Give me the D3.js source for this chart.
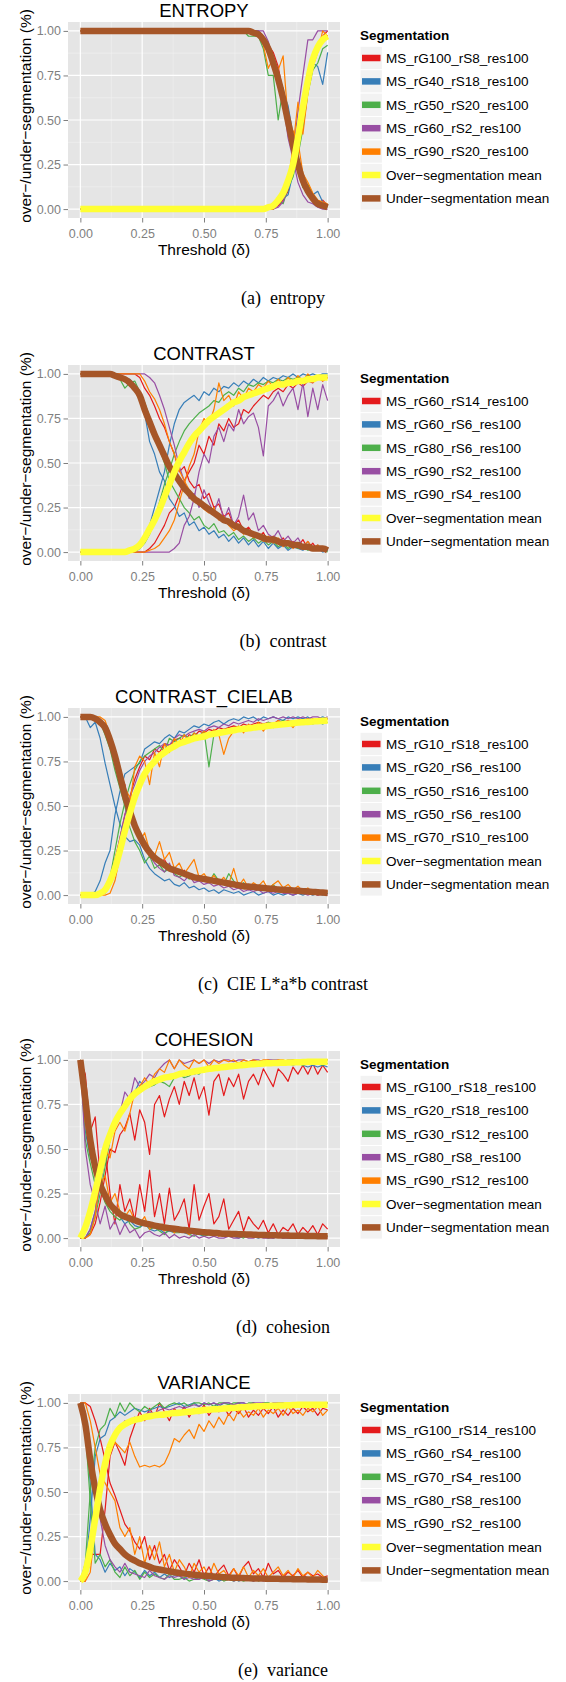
<!DOCTYPE html>
<html>
<head>
<meta charset="utf-8">
<script src="https://cdn.jsdelivr.net/npm/d3@7"></script>
<style>
  body { margin: 0; background: #fff; }
</style>
</head>
<body>
<div id="chart"></div>
<script>
// thresholds (delta) shared by every panel
const thresholds = [0,0.02,0.04,0.06,0.08,0.1,0.12,0.14,0.16,0.18,0.2,0.22,0.24,0.26,0.28,0.3,0.32,0.34,0.36,0.38,
  0.4,0.42,0.44,0.46,0.48,0.5,0.52,0.54,0.56,0.58,0.6,0.62,0.64,0.66,0.68,0.7,0.72,0.74,0.76,0.78,
  0.8,0.82,0.84,0.86,0.88,0.9,0.92,0.94,0.96,0.98,1];
const axisTicks = [0, 0.25, 0.5, 0.75, 1];
const seriesColors = ['#E41A1C', '#377EB8', '#4DAF4A', '#984EA3', '#FF7F00'];
const overMeanColor = '#FFFF33';
const underMeanColor = '#A65628';

// values are in percent, one row per segmentation

// (a) ENTROPY
const entropyNames = ['MS_rG100_rS8_res100', 'MS_rG40_rS18_res100', 'MS_rG50_rS20_res100', 'MS_rG60_rS2_res100', 'MS_rG90_rS20_res100'];
const entropyUnder = [
  [100,100,100,100,100,100,100,100,100,100,100,100,100,100,100,100,100,100,100,100,100,100,100,100,100,100,100,100,100,100,100,100,100,100,100,100,100,97,92,88,80,65,55,40,25,15,10,8,3,5,2],
  [100,100,100,100,100,100,100,100,100,100,100,100,100,100,100,100,100,100,100,100,100,100,100,100,100,100,100,100,100,100,100,100,100,100,100,100,100,96,90,84,75,66,58,42,30,18,12,8,10,4,2],
  [100,100,100,100,100,100,100,100,100,100,100,100,100,100,100,100,100,100,100,100,100,100,100,100,100,100,100,100,100,100,100,100,100,100,97,97,97,90,75,75,50,68,52,35,22,12,14,8,5,3,1],
  [100,100,100,100,100,100,100,100,100,100,100,100,100,100,100,100,100,100,100,100,100,100,100,100,100,100,100,100,100,100,100,100,100,100,100,100,100,100,94,84,72,60,40,28,15,8,4,3,1,0,0],
  [100,100,100,100,100,100,100,100,100,100,100,100,100,100,100,100,100,100,100,100,100,100,100,100,100,100,100,100,100,100,100,100,100,100,100,100,98,92,79,85,78,86,50,44,38,20,15,9,5,4,3]
];
const entropyOver = [
  [0,0,0,0,0,0,0,0,0,0,0,0,0,0,0,0,0,0,0,0,0,0,0,0,0,0,0,0,0,0,0,0,0,0,0,0,0,0,0,0,2,5,10,22,35,55,72,85,92,97,100],
  [0,0,0,0,0,0,0,0,0,0,0,0,0,0,0,0,0,0,0,0,0,0,0,0,0,0,0,0,0,0,0,0,0,0,0,0,0,0,0,0,3,6,8,20,38,52,75,82,80,70,88],
  [0,0,0,0,0,0,0,0,0,0,0,0,0,0,0,0,0,0,0,0,0,0,0,0,0,0,0,0,0,0,0,0,0,0,0,0,0,0,0,0,5,3,12,18,30,45,65,78,82,90,92],
  [0,0,0,0,0,0,0,0,0,0,0,0,0,0,0,0,0,0,0,0,0,0,0,0,0,0,0,0,0,0,0,0,0,0,0,0,0,0,0,0,1,4,12,30,55,75,95,95,100,100,100],
  [0,0,0,0,0,0,0,0,0,0,0,0,0,0,0,0,0,0,0,0,0,0,0,0,0,0,0,0,0,0,0,0,0,0,0,0,0,0,0,0,4,8,15,35,60,42,65,80,88,100,97]
];
const entropyUnderMean = [100,100,100,100,100,100,100,100,100,100,100,100,100,100,100,100,100,100,100,100,100,100,100,100,100,100,100,100,100,100,100,100,100,100,100,99,98,95,90,82,73,62,49,36,25,16,10,6,3,2,1];
const entropyOverMean = [0,0,0,0,0,0,0,0,0,0,0,0,0,0,0,0,0,0,0,0,0,0,0,0,0,0,0,0,0,0,0,0,0,0,0,0,0,0,1,2,5,9,16,25,40,57,72,84,91,95,97];

// (b) CONTRAST
const contrastNames = ['MS_rG60_rS14_res100', 'MS_rG60_rS6_res100', 'MS_rG80_rS6_res100', 'MS_rG90_rS2_res100', 'MS_rG90_rS4_res100'];
const contrastUnder = [
  [100,100,100,100,100,100,100,100,100,100,100,100,98,92,88,82,75,70,62,55,45,48,40,36,38,30,33,25,27,20,22,15,18,12,14,10,8,11,6,9,5,8,4,6,3,7,2,5,1,3,1],
  [100,100,100,100,100,100,100,100,100,98,97,94,88,78,62,55,45,40,30,26,20,22,15,17,12,14,10,12,8,10,6,9,5,8,4,7,3,6,2,5,2,4,1,3,2,1,3,1,2,0,1],
  [100,100,100,100,100,100,100,100,97,92,95,96,90,84,76,68,58,50,40,35,30,25,22,18,20,15,13,16,11,12,9,11,7,9,6,8,5,7,4,6,3,5,2,4,2,3,1,2,1,2,0],
  [100,100,100,100,100,100,100,100,100,100,100,100,100,100,98,95,88,80,70,60,48,40,30,33,25,35,28,22,30,18,25,15,20,32,18,22,12,15,10,8,12,6,9,5,8,3,6,2,4,1,2],
  [100,100,100,100,100,100,100,100,100,100,100,100,100,96,90,86,80,72,62,55,46,40,35,30,28,24,22,25,18,20,15,12,14,10,12,8,10,6,9,5,8,3,6,2,5,3,6,2,4,1,2]
];
const contrastOver = [
  [0,0,0,0,0,0,0,0,0,0,0,0,0,0,2,5,10,15,22,25,32,40,45,50,60,55,65,60,72,68,75,70,72,80,78,82,85,88,86,90,92,90,94,92,95,93,96,95,98,96,98],
  [0,0,0,0,0,0,0,0,0,0,0,2,4,8,15,25,35,45,60,72,80,84,86,88,85,90,88,92,90,93,92,95,93,96,94,97,95,98,96,98,97,99,98,100,98,100,99,100,99,100,100],
  [0,0,0,0,0,0,0,0,0,0,0,0,2,5,10,18,28,38,46,55,62,68,72,75,78,80,82,85,84,88,90,88,92,90,94,93,95,94,96,95,97,96,98,97,98,97,99,98,99,98,99],
  [0,0,0,0,0,0,0,0,0,0,0,0,0,0,0,0,0,0,0,2,5,15,20,30,45,55,50,65,70,62,72,68,80,72,76,78,70,54,82,85,90,82,88,92,80,95,76,92,80,94,85],
  [0,0,0,0,0,0,0,0,0,0,0,0,0,0,1,2,4,8,12,18,28,38,48,55,68,75,72,80,95,85,88,82,90,86,92,90,94,92,96,93,97,94,98,95,99,96,100,97,99,96,98]
];
const contrastUnderMean = [100,100,100,100,100,100,100,99,98,97,95,92,88,80,73,66,60,54,48,44,40,36,33,30,28,26,24,22,20,18,17,15,14,12,11,10,9,8,7,7,6,5,5,4,4,3,3,2,2,2,1];
const contrastOverMean = [0,0,0,0,0,0,0,0,0,0,1,2,4,8,13,18,24,31,38,45,51,56,61,65,68,71,74,76,78,80,82,84,85,87,88,89,90,91,92,93,94,94,95,95,96,96,97,97,98,98,98];

// (c) CONTRAST_CIELAB
const cielabNames = ['MS_rG10_rS18_res100', 'MS_rG20_rS6_res100', 'MS_rG50_rS16_res100', 'MS_rG50_rS6_res100', 'MS_rG70_rS10_res100'];
const cielabUnder = [
  [100,100,100,100,98,94,86,76,68,62,45,38,32,28,24,20,18,20,15,14,12,14,10,11,8,9,7,8,6,7,5,6,4,5,3,5,3,4,2,3,2,3,1,2,1,2,1,1,0,1,1],
  [100,100,94,97,88,74,62,50,40,33,30,31,28,20,15,12,10,8,9,6,5,7,4,5,3,4,2,3,1,3,2,1,2,0,1,2,0,1,2,0,1,0,1,0,1,0,1,0,1,0,1],
  [100,100,100,100,97,90,82,70,60,50,38,30,25,18,22,15,17,13,15,12,10,12,9,11,8,10,7,12,8,6,12,8,5,7,4,6,3,5,3,6,2,4,2,3,1,3,1,2,1,2,1],
  [100,100,100,100,98,93,85,75,65,55,45,38,30,26,22,18,15,13,18,11,10,8,11,7,8,6,7,5,6,4,5,3,4,2,3,2,3,1,2,1,2,1,1,0,1,1,0,1,0,1,0],
  [100,100,100,100,100,98,90,80,72,60,55,40,30,35,25,22,30,20,24,15,18,12,16,20,10,12,8,11,7,10,6,15,5,9,4,7,5,8,3,6,8,4,6,3,5,2,4,1,3,1,2]
];
const cielabOver = [
  [0,0,0,0,0,2,8,20,32,45,55,65,72,78,76,82,80,85,84,87,88,86,90,89,92,91,93,92,94,93,94,95,94,96,95,96,97,96,97,96,98,97,98,97,98,99,98,99,98,99,99],
  [0,0,0,2,8,18,25,45,58,68,70,72,74,82,84,86,85,88,90,88,92,91,93,95,94,96,95,97,98,96,98,99,98,100,99,100,98,100,99,100,99,98,100,99,100,99,100,98,99,100,99],
  [0,0,0,0,0,2,10,25,40,52,62,70,75,78,80,82,84,80,88,86,88,90,88,91,89,92,72,90,92,91,93,92,94,93,95,94,96,95,97,96,97,98,97,98,96,98,97,96,97,96,97],
  [0,0,0,0,0,1,6,18,32,45,55,62,70,75,78,80,83,85,84,88,90,89,91,92,93,92,94,95,94,96,95,97,96,97,98,97,99,98,99,100,99,100,99,100,99,100,99,100,100,99,100],
  [0,0,0,0,0,0,1,8,22,35,50,72,78,75,62,80,72,85,80,88,84,90,86,91,88,92,89,93,90,79,88,92,95,91,96,93,97,92,96,94,98,95,97,94,98,96,99,97,98,97,99]
];
const cielabUnderMean = [100,100,100,99,97,94,87,78,67,56,47,39,33,28,24,21,19,17,15,14,13,12,11,10,9.5,9,8.5,8,7.5,7,6.5,6,5.5,5,4.8,4.5,4.2,4,3.7,3.5,3.2,3,2.8,2.6,2.4,2.2,2,1.8,1.6,1.4,1.2];
const cielabOverMean = [0,0,0,0,1,3,8,15,25,36,46,55,62,68,72,75,78,80,82,83.5,85,86,87,88,88.5,89,90,90.5,91,91.5,92,92.5,93,93.3,93.6,94,94.3,94.6,95,95.3,95.6,95.9,96.2,96.5,96.8,97,97.2,97.4,97.6,97.8,98];

// (d) COHESION
const cohesionNames = ['MS_rG100_rS18_res100', 'MS_rG20_rS18_res100', 'MS_rG30_rS12_res100', 'MS_rG80_rS8_res100', 'MS_rG90_rS12_res100'];
const cohesionUnder = [
  [100,92,60,68,35,50,25,8,30,15,22,10,30,15,38,12,25,8,28,10,15,22,5,30,10,18,25,8,12,22,5,10,15,4,12,8,5,10,3,8,2,6,4,8,2,6,3,7,2,8,5],
  [100,60,45,40,30,25,20,15,12,8,10,7,6,8,5,4,5,3,4,3,5,3,2,3,2,1,2,1,3,1,2,1,0,1,2,1,0,1,1,0,1,0,1,0,1,0,1,0,1,0,1],
  [100,55,42,30,28,20,15,12,10,14,8,5,6,10,5,6,4,2,5,3,3,4,2,1,3,1,2,1,2,1,1,2,1,0,2,1,2,1,0,1,2,1,0,1,2,0,1,0,1,2,1],
  [100,50,30,20,8,18,5,10,2,8,3,5,0,3,4,2,1,3,0,2,0,1,0,2,0,1,0,1,0,0,1,0,0,1,0,0,1,0,0,0,1,0,0,0,1,0,0,0,0,1,0],
  [100,65,48,42,30,35,20,25,15,12,16,10,8,12,5,8,6,4,6,3,6,4,2,5,3,3,2,4,1,3,2,1,3,2,1,2,3,1,2,1,2,1,3,1,2,1,2,1,1,2,1]
];
const cohesionOver = [
  [0,0,2,8,20,35,50,48,58,62,70,55,72,65,47,75,80,68,78,85,75,88,80,90,78,85,69,88,92,80,90,85,92,78,88,92,86,95,90,85,95,92,88,96,92,97,92,98,92,97,93],
  [0,0,5,15,30,45,55,62,70,75,80,82,88,85,86,88,89,90,91,90,92,91,93,92,93,95,94,95,96,95,96,97,96,97,98,97,98,97,98,98,98,97,98,97,98,97,96,97,96,97,96],
  [0,0,3,12,25,40,55,62,68,75,78,80,82,84,85,86,88,87,85,90,92,90,91,93,92,95,94,95,96,95,97,96,97,98,97,98,97,98,99,98,98,99,98,99,98,97,98,99,98,97,98],
  [0,0,5,15,30,45,55,65,70,82,78,90,85,88,92,90,95,98,100,95,100,98,99,100,98,100,98,100,99,100,100,99,100,100,99,100,100,99,100,100,100,99,100,100,99,100,100,100,99,100,100],
  [0,0,2,12,35,50,45,60,65,60,70,82,85,90,86,92,95,93,100,95,100,97,95,100,98,100,96,100,98,100,99,100,98,100,99,100,99,100,100,99,100,100,99,100,100,98,100,99,100,100,100]
];
const cohesionUnderMean = [100,78,55,40,30,24,19,16,13.5,12,11,10,9,8.3,7.7,7,6.5,6,5.6,5.2,4.8,4.5,4.2,3.9,3.6,3.3,3.1,2.9,2.7,2.5,2.4,2.3,2.2,2.1,2,1.9,1.8,1.7,1.65,1.6,1.5,1.45,1.4,1.35,1.3,1.25,1.2,1.15,1.1,1.05,1];
const cohesionOverMean = [0,6,15,26,38,50,58,65,70,74,78,81,83,85,86.5,88,89,90,90.5,91,92,92.5,93,93.5,94,94.5,95,95.3,95.6,96,96.3,96.6,96.9,97.2,97.4,97.6,97.8,98,98.1,98.2,98.3,98.4,98.5,98.6,98.7,98.8,98.9,99,99,99,99];

// (e) VARIANCE
const varianceNames = ['MS_rG100_rS14_res100', 'MS_rG60_rS4_res100', 'MS_rG70_rS4_res100', 'MS_rG80_rS8_res100', 'MS_rG90_rS2_res100'];
const varianceUnder = [
  [100,100,98,90,80,68,55,48,40,32,28,22,18,25,12,20,10,15,6,12,8,3,10,5,12,3,8,2,6,9,3,7,2,8,11,4,7,2,10,4,6,2,5,3,6,2,5,3,4,2,3],
  [100,90,55,15,12,5,10,6,8,3,7,5,2,6,3,5,2,4,2,3,3,1,4,2,1,3,1,2,0,1,1,2,0,1,1,0,2,1,0,1,1,0,1,0,1,1,0,1,0,1,0],
  [100,85,45,10,15,8,12,5,2,8,3,6,1,5,2,4,2,1,4,1,1,2,0,1,2,1,0,1,2,0,1,0,1,0,1,2,0,1,0,1,0,1,0,1,0,1,0,1,0,0,1],
  [100,95,75,55,35,20,12,8,5,10,5,4,3,2,6,3,2,1,3,2,3,1,2,1,1,2,0,1,2,1,2,0,1,1,2,0,1,0,1,0,1,0,1,0,1,0,1,0,0,1,0],
  [100,100,90,75,60,55,50,45,30,25,30,15,25,10,20,12,22,8,15,5,12,8,2,10,5,8,2,10,4,6,2,7,3,8,2,6,3,7,2,5,8,3,6,2,7,3,5,2,6,3,1]
];
const varianceOver = [
  [0,0,15,15,15,40,70,78,72,65,80,88,95,90,97,92,100,95,90,97,93,98,92,97,94,99,93,97,95,98,93,97,94,98,92,96,93,97,94,98,92,96,93,97,94,98,95,97,93,97,96],
  [0,5,35,70,80,82,90,92,95,93,95,97,96,95,96,97,98,97,98,99,100,98,99,100,98,100,99,100,98,100,100,99,100,100,99,100,98,100,100,99,100,99,100,100,99,100,99,100,100,99,100],
  [0,10,50,75,85,88,97,92,100,95,100,97,95,98,96,98,100,97,99,100,99,100,98,100,100,99,100,98,100,100,99,100,100,98,100,100,99,100,100,99,100,100,99,100,100,98,100,99,100,100,100],
  [0,2,10,30,50,65,75,80,85,90,88,92,90,93,95,94,96,97,96,97,98,97,98,99,98,100,99,100,99,100,100,99,100,100,99,100,100,100,99,100,100,100,99,100,100,100,99,100,100,100,100],
  [0,0,5,30,55,68,72,78,75,72,78,70,64,65,64,65,64,66,72,80,78,82,85,80,88,84,90,86,92,88,94,90,96,92,95,93,97,92,96,94,97,93,98,94,96,93,97,95,98,93,96]
];
const varianceUnderMean = [100,88,68,52,40,32,26,21,18,15,13,11.5,10,9,8,7,6.5,6,5.5,5,4.5,4.2,3.9,3.6,3.3,3,2.8,2.6,2.4,2.2,2,1.9,1.8,1.7,1.6,1.5,1.45,1.4,1.35,1.3,1.25,1.2,1.15,1.1,1.05,1,0.95,0.9,0.85,0.8,0.8];
const varianceOverMean = [0,5,18,35,52,66,76,82,86,88,89.5,90.5,91,92,92.5,93,93.3,93.5,94,94.3,94.5,94.8,95,95.3,95.6,96,96.2,96.4,96.6,96.8,97,97.2,97.4,97.6,97.8,98,98.1,98.2,98.3,98.4,98.5,98.6,98.7,98.8,98.9,99,99,99,99,99,99];

const panelTitles = ['ENTROPY', 'CONTRAST', 'CONTRAST_CIELAB', 'COHESION', 'VARIANCE'];
const panelCaptions = ['(a)  entropy', '(b)  contrast', '(c)  CIE L*a*b contrast', '(d)  cohesion', '(e)  variance'];
const meanLabels = ['Over\u2212segmentation mean', 'Under\u2212segmentation mean'];

const panels = [
  { names: entropyNames, under: entropyUnder, over: entropyOver, underMean: entropyUnderMean, overMean: entropyOverMean },
  { names: contrastNames, under: contrastUnder, over: contrastOver, underMean: contrastUnderMean, overMean: contrastOverMean },
  { names: cielabNames, under: cielabUnder, over: cielabOver, underMean: cielabUnderMean, overMean: cielabOverMean },
  { names: cohesionNames, under: cohesionUnder, over: cohesionOver, underMean: cohesionUnderMean, overMean: cohesionOverMean },
  { names: varianceNames, under: varianceUnder, over: varianceOver, underMean: varianceUnderMean, overMean: varianceOverMean }
];

const W = 566, H = 1682;
const panelStep = 343;
const SANS = '"Liberation Sans", Arial, Helvetica, sans-serif';
const SERIF = '"Liberation Serif", "Times New Roman", serif';

const svg = d3.select('#chart').append('svg')
  .attr('width', W)
  .attr('height', H)
  .attr('xmlns', 'http://www.w3.org/2000/svg');
svg.append('rect').attr('width', W).attr('height', H).attr('fill', '#fff');

// plot area (same for every panel)
const area = { left: 68, right: 340, top: 22, bottom: 218 };
const x = d3.scaleLinear().domain([-0.05, 1.05]).range([area.left, area.right]);
const y = d3.scaleLinear().domain([-5, 105]).range([area.bottom, area.top]);
const minorTicks = [0.125, 0.375, 0.625, 0.875];

const line = d3.line()
  .defined((d, i) => i < thresholds.length)
  .x((d, i) => x(thresholds[i]))
  .y(d => y(d));
const smoothLine = d3.line()
  .defined((d, i) => i < thresholds.length)
  .x((d, i) => x(thresholds[i]))
  .y(d => y(d))
  .curve(d3.curveMonotoneX);

panels.forEach((p, k) => {
  const g = svg.append('g').attr('transform', `translate(0,${k * panelStep})`);

  // panel background
  g.append('rect')
    .attr('x', area.left).attr('y', area.top)
    .attr('width', area.right - area.left).attr('height', area.bottom - area.top)
    .attr('fill', '#E5E5E5');

  // minor grid
  g.append('g').selectAll('line').data(minorTicks).join('line')
    .attr('x1', d => x(d)).attr('x2', d => x(d))
    .attr('y1', area.top).attr('y2', area.bottom)
    .attr('stroke', '#F2F2F2').attr('stroke-width', 0.6);
  g.append('g').selectAll('line').data(minorTicks).join('line')
    .attr('y1', d => y(d * 100)).attr('y2', d => y(d * 100))
    .attr('x1', area.left).attr('x2', area.right)
    .attr('stroke', '#F2F2F2').attr('stroke-width', 0.6);

  // major grid
  g.append('g').selectAll('line').data(axisTicks).join('line')
    .attr('x1', d => x(d)).attr('x2', d => x(d))
    .attr('y1', area.top).attr('y2', area.bottom)
    .attr('stroke', '#fff').attr('stroke-width', 1.2);
  g.append('g').selectAll('line').data(axisTicks).join('line')
    .attr('y1', d => y(d * 100)).attr('y2', d => y(d * 100))
    .attr('x1', area.left).attr('x2', area.right)
    .attr('stroke', '#fff').attr('stroke-width', 1.2);

  // axes
  const xAxis = g.append('g')
    .attr('transform', `translate(0,${area.bottom})`)
    .call(d3.axisBottom(x).tickValues(axisTicks).tickSize(4.5).tickFormat(d3.format('.2f')));
  xAxis.selectAll('text').attr('dy', null).attr('y', 19.5);

  const yAxis = g.append('g')
    .attr('transform', `translate(${area.left},0)`)
    .call(d3.axisLeft(y).tickValues(axisTicks.map(d => d * 100)).tickSize(4.5).tickPadding(2.5)
      .tickFormat(d => (d / 100).toFixed(2)));

  [xAxis, yAxis].forEach(a => {
    a.select('.domain').remove();
    a.selectAll('line').attr('stroke', '#7F7F7F').attr('stroke-width', 1);
    a.selectAll('text').attr('fill', '#7F7F7F').style('font-family', SANS).style('font-size', '12.5px');
  });

  // individual segmentations
  const lines = g.append('g').attr('fill', 'none').attr('stroke-width', 1.2).attr('stroke-linejoin', 'round');
  p.names.forEach((name, i) => {
    lines.append('path').attr('d', line(p.under[i])).attr('stroke', seriesColors[i]);
    lines.append('path').attr('d', line(p.over[i])).attr('stroke', seriesColors[i]);
  });

  // means
  g.append('path').attr('d', smoothLine(p.underMean))
    .attr('fill', 'none').attr('stroke', underMeanColor).attr('stroke-width', 6.5).attr('stroke-linejoin', 'round');
  g.append('path').attr('d', smoothLine(p.overMean))
    .attr('fill', 'none').attr('stroke', overMeanColor).attr('stroke-width', 6.5).attr('stroke-linejoin', 'round');

  // titles
  g.append('text')
    .attr('x', (area.left + area.right) / 2).attr('y', 16.5)
    .attr('text-anchor', 'middle')
    .style('font-family', SANS).style('font-size', '18.5px')
    .text(panelTitles[k]);

  g.append('text')
    .attr('x', (area.left + area.right) / 2).attr('y', 254.5)
    .attr('text-anchor', 'middle')
    .style('font-family', SANS).style('font-size', '15.5px')
    .text('Threshold (\u03B4)');

  g.append('text')
    .attr('transform', `translate(31,${(area.top + area.bottom) / 2 - 4}) rotate(-90)`)
    .attr('text-anchor', 'middle')
    .style('font-family', SANS).style('font-size', '15.5px')
    .text('over\u2212/under\u2212segmentation (%)');

  // legend
  const legend = g.append('g');
  legend.append('text')
    .attr('x', 360).attr('y', 39.8)
    .style('font-family', SANS).style('font-size', '13.5px').style('font-weight', 'bold')
    .text('Segmentation');

  const items = p.names.map((n, i) => ({ label: n, color: seriesColors[i] }))
    .concat([{ label: meanLabels[0], color: overMeanColor }, { label: meanLabels[1], color: underMeanColor }]);

  items.forEach((it, i) => {
    const cy = 58 + i * 23.4;
    legend.append('rect')
      .attr('x', 360).attr('y', cy - 11.7).attr('width', 22.4).attr('height', 23.4)
      .attr('fill', '#F2F2F2').attr('stroke', '#fff').attr('stroke-width', 1);
    legend.append('line')
      .attr('x1', 362).attr('x2', 380.5).attr('y1', cy).attr('y2', cy)
      .attr('stroke', it.color).attr('stroke-width', 6.5);
    legend.append('text')
      .attr('x', 386).attr('y', cy + 4.8)
      .style('font-family', SANS).style('font-size', '13.5px')
      .text(it.label);
  });

  // caption
  g.append('text')
    .attr('x', W / 2).attr('y', 304)
    .attr('text-anchor', 'middle')
    .style('font-family', SERIF).style('font-size', '18px').style('white-space', 'pre')
    .text(panelCaptions[k]);
});
</script>
</body>
</html>
